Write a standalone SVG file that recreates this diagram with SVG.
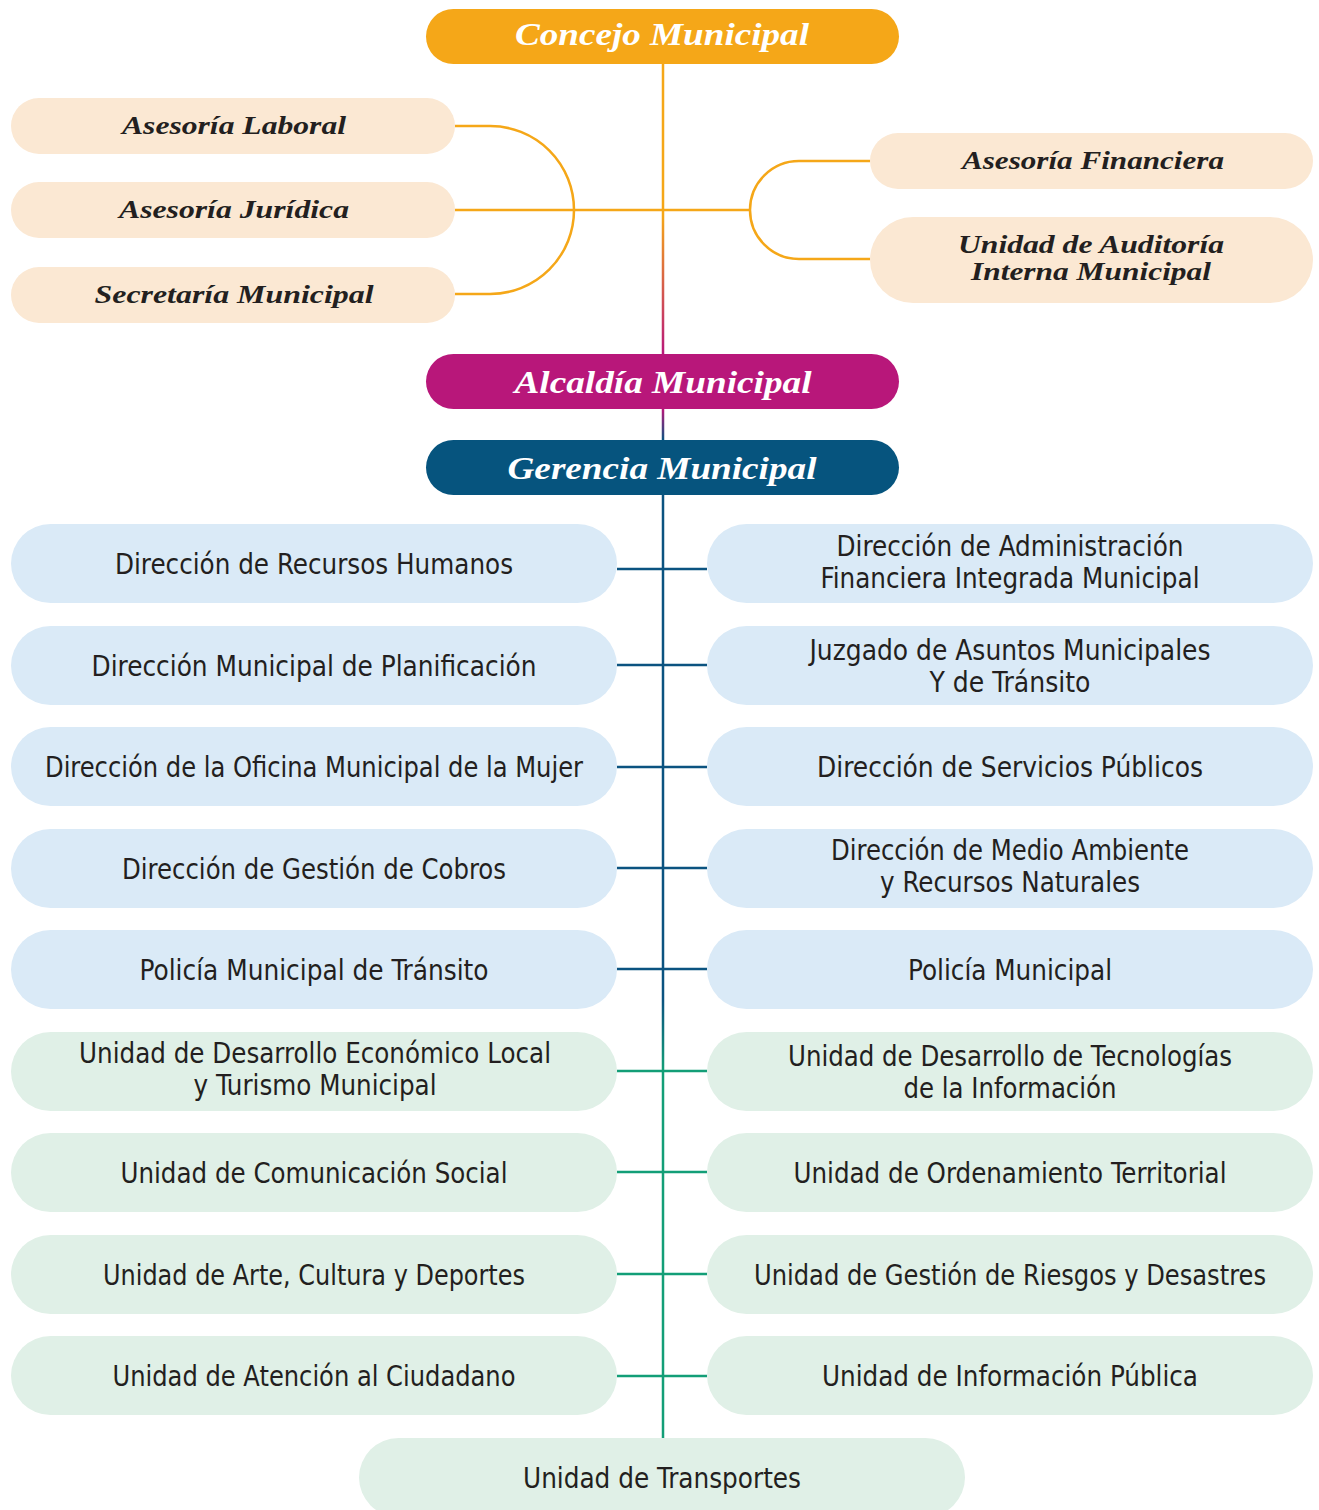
<svg xmlns="http://www.w3.org/2000/svg" width="1319" height="1510" viewBox="0 0 1319 1510">
<style>
.top{font-family:"Liberation Serif","DejaVu Serif",serif;font-weight:bold;font-style:italic;font-size:31px;fill:#fff;text-anchor:middle}
.adv{font-family:"Liberation Serif","DejaVu Serif",serif;font-weight:bold;font-style:italic;font-size:25px;fill:#231f20;text-anchor:middle}
.unit{font-family:"Liberation Sans Narrow","DejaVu Sans Condensed","Roboto",sans-serif;font-size:28px;fill:#231f20;text-anchor:middle}
.peach{fill:#FBE8D3}
.blue{fill:#DAEAF7}
.green{fill:#E0F0E7}
.oc{stroke:#F5A718;stroke-width:2.5;fill:none}
.bc{stroke:#0B5380;stroke-width:2.5;fill:none}
.gc{stroke:#139E77;stroke-width:2.5;fill:none}
</style>
<defs>
<linearGradient id="g1" gradientUnits="userSpaceOnUse" x1="0" y1="215" x2="0" y2="354"><stop offset="0" stop-color="#F5A718"/><stop offset="1" stop-color="#B8177A"/></linearGradient>
<linearGradient id="g2" gradientUnits="userSpaceOnUse" x1="0" y1="409" x2="0" y2="440"><stop offset="0" stop-color="#B8177A"/><stop offset="1" stop-color="#0B5380"/></linearGradient>
<linearGradient id="g3" gradientUnits="userSpaceOnUse" x1="0" y1="1000" x2="0" y2="1070"><stop offset="0" stop-color="#0B5380"/><stop offset="1" stop-color="#139E77"/></linearGradient>
</defs>
<g id="connectors">
<line x1="663" y1="64" x2="663" y2="354" stroke="url(#g1)" stroke-width="2.5"/>
<line x1="663" y1="409" x2="663" y2="440" stroke="url(#g2)" stroke-width="2.5"/>
<line x1="663" y1="495" x2="663" y2="1438" stroke="url(#g3)" stroke-width="2.5"/>
<path class="oc" d="M455 126 H490 A84 84 0 0 1 574 210 A84 84 0 0 1 490 294 H455"/>
<path class="oc" d="M455 210 H750"/>
<path class="oc" d="M870 161 H799 A49 49 0 0 0 750 210 A49 49 0 0 0 799 259 H870"/>
<path class="bc" d="M617 569 H707 M617 665 H707 M617 767 H707 M617 868 H707 M617 969 H707"/>
<path class="gc" d="M617 1071 H707 M617 1172 H707 M617 1274 H707 M617 1376 H707"/>
</g>
<g id="concejo"><rect x="426" y="9" width="473" height="55" rx="27.5" fill="#F5A718"/><text class="top" x="662" y="45" textLength="294" lengthAdjust="spacingAndGlyphs">Concejo Municipal</text></g>
<g id="asesoria-laboral"><rect class="peach" x="11" y="98" width="444" height="56" rx="28"/><text class="adv" x="234" y="134" textLength="224" lengthAdjust="spacingAndGlyphs">Asesoría Laboral</text></g>
<g id="asesoria-juridica"><rect class="peach" x="11" y="182" width="444" height="56" rx="28"/><text class="adv" x="234" y="218" textLength="230" lengthAdjust="spacingAndGlyphs">Asesoría Jurídica</text></g>
<g id="secretaria"><rect class="peach" x="11" y="267" width="444" height="56" rx="28"/><text class="adv" x="234" y="303" textLength="279" lengthAdjust="spacingAndGlyphs">Secretaría Municipal</text></g>
<g id="asesoria-financiera"><rect class="peach" x="870" y="133" width="443" height="56" rx="28"/><text class="adv" x="1093" y="169" textLength="262" lengthAdjust="spacingAndGlyphs">Asesoría Financiera</text></g>
<g id="auditoria"><rect class="peach" x="870" y="217" width="443" height="86" rx="43"/><text class="adv" x="1091" y="253" textLength="266" lengthAdjust="spacingAndGlyphs">Unidad de Auditoría</text><text class="adv" x="1091" y="280" textLength="240" lengthAdjust="spacingAndGlyphs">Interna Municipal</text></g>
<g id="alcaldia"><rect x="426" y="354" width="473" height="55" rx="27.5" fill="#B8177A"/><text class="top" x="663" y="393" textLength="297" lengthAdjust="spacingAndGlyphs">Alcaldía Municipal</text></g>
<g id="gerencia"><rect x="426" y="440" width="473" height="55" rx="27.5" fill="#06547E"/><text class="top" x="662" y="479" textLength="309" lengthAdjust="spacingAndGlyphs">Gerencia Municipal</text></g>

<g id="rrhh"><rect class="blue" x="11" y="524" width="606" height="79" rx="39.5"/><text class="unit" x="314" y="574" textLength="398" lengthAdjust="spacingAndGlyphs">Dirección de Recursos Humanos</text></g>
<g id="daf"><rect class="blue" x="707" y="524" width="606" height="79" rx="39.5"/><text class="unit" x="1010" y="556" textLength="347" lengthAdjust="spacingAndGlyphs">Dirección de Administración</text><text class="unit" x="1010" y="588" textLength="379" lengthAdjust="spacingAndGlyphs">Financiera Integrada Municipal</text></g>
<g id="planificacion"><rect class="blue" x="11" y="626" width="606" height="79" rx="39.5"/><text class="unit" x="314" y="676" textLength="445" lengthAdjust="spacingAndGlyphs">Dirección Municipal de Planificación</text></g>
<g id="juzgado"><rect class="blue" x="707" y="626" width="606" height="79" rx="39.5"/><text class="unit" x="1010" y="660" textLength="401" lengthAdjust="spacingAndGlyphs">Juzgado de Asuntos Municipales</text><text class="unit" x="1010" y="692" textLength="161" lengthAdjust="spacingAndGlyphs">Y de Tránsito</text></g>
<g id="mujer"><rect class="blue" x="11" y="727" width="606" height="79" rx="39.5"/><text class="unit" x="314" y="777" textLength="538" lengthAdjust="spacingAndGlyphs">Dirección de la Oficina Municipal de la Mujer</text></g>
<g id="servicios"><rect class="blue" x="707" y="727" width="606" height="79" rx="39.5"/><text class="unit" x="1010" y="777" textLength="386" lengthAdjust="spacingAndGlyphs">Dirección de Servicios Públicos</text></g>
<g id="cobros"><rect class="blue" x="11" y="829" width="606" height="79" rx="39.5"/><text class="unit" x="314" y="879" textLength="384" lengthAdjust="spacingAndGlyphs">Dirección de Gestión de Cobros</text></g>
<g id="ambiente"><rect class="blue" x="707" y="829" width="606" height="79" rx="39.5"/><text class="unit" x="1010" y="860" textLength="358" lengthAdjust="spacingAndGlyphs">Dirección de Medio Ambiente</text><text class="unit" x="1010" y="892" textLength="260" lengthAdjust="spacingAndGlyphs">y Recursos Naturales</text></g>
<g id="pmt"><rect class="blue" x="11" y="930" width="606" height="79" rx="39.5"/><text class="unit" x="314" y="980" textLength="349" lengthAdjust="spacingAndGlyphs">Policía Municipal de Tránsito</text></g>
<g id="pm"><rect class="blue" x="707" y="930" width="606" height="79" rx="39.5"/><text class="unit" x="1010" y="980" textLength="204" lengthAdjust="spacingAndGlyphs">Policía Municipal</text></g>

<g id="turismo"><rect class="green" x="11" y="1032" width="606" height="79" rx="39.5"/><text class="unit" x="315" y="1063" textLength="472" lengthAdjust="spacingAndGlyphs">Unidad de Desarrollo Económico Local</text><text class="unit" x="315" y="1095" textLength="243" lengthAdjust="spacingAndGlyphs">y Turismo Municipal</text></g>
<g id="tecnologias"><rect class="green" x="707" y="1032" width="606" height="79" rx="39.5"/><text class="unit" x="1010" y="1066" textLength="444" lengthAdjust="spacingAndGlyphs">Unidad de Desarrollo de Tecnologías</text><text class="unit" x="1010" y="1098" textLength="213" lengthAdjust="spacingAndGlyphs">de la Información</text></g>
<g id="comunicacion"><rect class="green" x="11" y="1133" width="606" height="79" rx="39.5"/><text class="unit" x="314" y="1183" textLength="387" lengthAdjust="spacingAndGlyphs">Unidad de Comunicación Social</text></g>
<g id="ordenamiento"><rect class="green" x="707" y="1133" width="606" height="79" rx="39.5"/><text class="unit" x="1010" y="1183" textLength="433" lengthAdjust="spacingAndGlyphs">Unidad de Ordenamiento Territorial</text></g>
<g id="arte"><rect class="green" x="11" y="1235" width="606" height="79" rx="39.5"/><text class="unit" x="314" y="1285" textLength="422" lengthAdjust="spacingAndGlyphs">Unidad de Arte, Cultura y Deportes</text></g>
<g id="riesgos"><rect class="green" x="707" y="1235" width="606" height="79" rx="39.5"/><text class="unit" x="1010" y="1285" textLength="512" lengthAdjust="spacingAndGlyphs">Unidad de Gestión de Riesgos y Desastres</text></g>
<g id="ciudadano"><rect class="green" x="11" y="1336" width="606" height="79" rx="39.5"/><text class="unit" x="314" y="1386" textLength="403" lengthAdjust="spacingAndGlyphs">Unidad de Atención al Ciudadano</text></g>
<g id="informacion"><rect class="green" x="707" y="1336" width="606" height="79" rx="39.5"/><text class="unit" x="1010" y="1386" textLength="376" lengthAdjust="spacingAndGlyphs">Unidad de Información Pública</text></g>
<g id="transportes"><rect class="green" x="359" y="1438" width="606" height="79" rx="39.5"/><text class="unit" x="662" y="1488" textLength="278" lengthAdjust="spacingAndGlyphs">Unidad de Transportes</text></g>
</svg>
